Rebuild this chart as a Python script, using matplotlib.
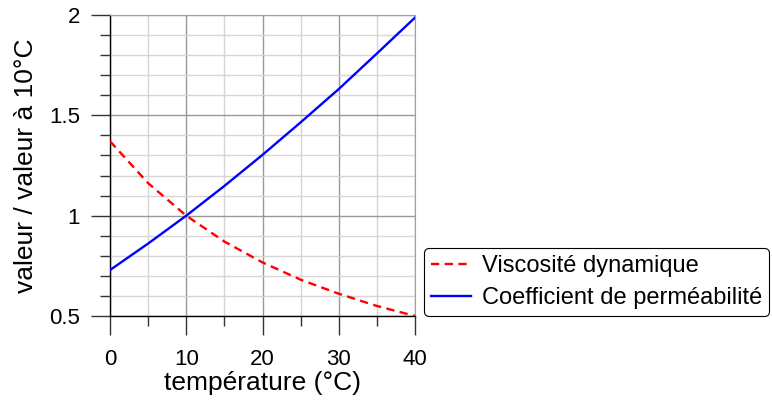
import matplotlib
matplotlib.use('Agg')
import matplotlib.pyplot as plt
from matplotlib.ticker import MultipleLocator
import numpy as np

plt.rcParams['font.family'] = ['Liberation Sans', 'DejaVu Sans']

# temperature (°C) and values relative to 10°C
temperature = [0, 5, 10, 15, 20, 25, 30, 35, 40]
viscosite = [1.371, 1.162, 1.0, 0.871, 0.767, 0.681, 0.611, 0.550, 0.500]
permeabilite = [0.729, 0.861, 1.0, 1.148, 1.303, 1.465, 1.631, 1.808, 1.987]

fig = plt.figure(figsize=(7.72, 4.0), dpi=100)
ax = fig.add_axes([110 / 772, 1 - 316 / 400, 305 / 772, 301 / 400])

ax.plot(temperature, viscosite, color='#ff0000', lw=1.7,
        linestyle=(0, (3.5, 2.3)), label='Viscosité dynamique', zorder=3)
ax.plot(temperature, permeabilite, color='#0000ff', lw=1.7,
        label='Coefficient de perméabilité', zorder=3)

ax.set_xlim(0, 40)
ax.set_ylim(0.5, 2)
ax.xaxis.set_major_locator(MultipleLocator(10))
ax.xaxis.set_minor_locator(MultipleLocator(5))
ax.yaxis.set_minor_locator(MultipleLocator(0.1))
ax.set_yticks([0.5, 1, 1.5, 2])
ax.set_yticklabels(['0.5', '1', '1.5', '2'])

ax.grid(which='major', color='#999999', lw=1.0)
ax.grid(which='minor', color='#d6d6d6', lw=1.0)
ax.set_axisbelow(True)

for s in ['top', 'right']:
    ax.spines[s].set_color('#a0a0a0')
for s in ['left', 'bottom']:
    ax.spines[s].set_color('black')
    ax.spines[s].set_linewidth(1.0)

ax.tick_params(which='major', length=13.5, width=1.0, color='#333333',
               labelsize=16)
ax.tick_params(which='minor', length=7, width=1.0, color='#333333')
ax.tick_params(axis='x', which='major', pad=10)
ax.tick_params(axis='y', which='major', pad=8)

ax.set_xlabel('température (°C)', fontsize=19, labelpad=1)
ax.set_ylabel('valeur / valeur à 10°C', fontsize=19, labelpad=8)

leg = fig.legend(loc='lower left', bbox_to_anchor=(424 / 772, 84 / 400),
                 fontsize=17, frameon=True, fancybox=True, framealpha=1,
                 edgecolor='black', handlelength=1.7, borderpad=0.3,
                 labelspacing=0.42, handletextpad=0.45, borderaxespad=0)
leg.get_frame().set_linewidth(0.8)

fig.savefig('out.png', dpi=100)
